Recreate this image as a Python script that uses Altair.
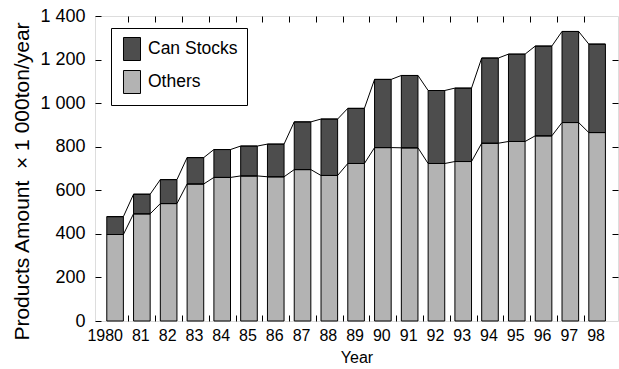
import altair as alt
import pandas as pd

YEARS = list(range(1980, 1999))
OTHERS = [397, 492, 539, 629, 659, 666, 662, 695, 668, 723, 796, 795, 723, 732, 816, 824, 850, 911, 865]
CAN_STOCKS = [82, 90, 110, 121, 128, 137, 150, 219, 259, 253, 313, 332, 335, 337, 391, 401, 412, 418, 406]
SERIES = ["Can Stocks", "Others"]
COLORS = ["#4d4d4d", "#b3b3b3"]
Y_TICKS = [0, 200, 400, 600, 800, 1000, 1200, 1400]
X_TICKS = [y + 0.5 for y in YEARS]

rows = []
for y, o, c in zip(YEARS, OTHERS, CAN_STOCKS):
    rows.append({"year": y, "series": "Others", "lo": 0, "hi": o})
    rows.append({"year": y, "series": "Can Stocks", "lo": o, "hi": o + c})
bars_df = pd.DataFrame(rows)

line_rows = []
for y, o, c in zip(YEARS, OTHERS, CAN_STOCKS):
    line_rows.append({"year": y, "series": "Others", "value": o})
    line_rows.append({"year": y, "series": "Total", "value": o + c})
lines_df = pd.DataFrame(line_rows)

HALF = 0.31
FONT = "Liberation Sans"

xscale = alt.Scale(domain=[1979.25, 1998.78], nice=False, zero=False)
yscale = alt.Scale(domain=[0, 1400], nice=False)

bottom_axis = alt.Axis(
    orient="bottom", values=X_TICKS, offset=-6, tickSize=6, domain=False, grid=False,
    ticks=True, zindex=2,
    labelExpr="floor(datum.value) == 1980 ? '1980' : slice(toString(floor(datum.value)), 2)",
    labelAlign="right", labelOffset=-6, labelPadding=6, labelFontSize=16, labelFont=FONT,
    labelColor="black", tickColor="black", tickWidth=1,
    tickOpacity={"condition": {"test": "datum.value > 1998", "value": 0}, "value": 1},
    title="Year", titleFont=FONT, titleFontSize=16, titleFontWeight="normal",
    titleColor="black", titlePadding=6,
)
left_axis = alt.Axis(
    orient="left", values=Y_TICKS, offset=-6, tickSize=6, domain=False, grid=False,
    ticks=True, zindex=2,
    labelExpr="replace(format(datum.value, ',d'), ',', ' ')",
    labelPadding=10, labelFontSize=18, labelFont=FONT, labelColor="black",
    tickColor="black", tickWidth=1,
    title="Products Amount\u00a0\u00a0\u00d7 1 000ton/year", titleFont=FONT, titleFontSize=21,
    titleFontWeight="normal", titleColor="black",
    titleAngle=270, titleAlign="center", titleBaseline="alphabetic",
    titleX=-73, titleY=165,
)
top_axis = alt.Axis(
    orient="top", values=X_TICKS[:-1], offset=-6, tickSize=6, domain=False, grid=False,
    ticks=True, zindex=2, labels=False, title=None, tickColor="black", tickWidth=1,
)
right_axis = alt.Axis(
    orient="right", values=Y_TICKS[1:-1], offset=-6, tickSize=6, domain=False, grid=False,
    ticks=True, zindex=2, labels=False, title=None, tickColor="black", tickWidth=1,
)

bars = alt.Chart(bars_df).transform_calculate(
    x0=f"datum.year - {HALF}", x1=f"datum.year + {HALF}"
).mark_bar(stroke="black", strokeWidth=1).encode(
    x=alt.X("x0:Q", scale=xscale, axis=bottom_axis),
    x2="x1:Q",
    y=alt.Y("lo:Q", scale=yscale, axis=left_axis),
    y2="hi:Q",
    color=alt.Color(
        "series:N",
        scale=alt.Scale(domain=SERIES, range=COLORS),
        legend=alt.Legend(
            orient="none", legendX=16, legendY=12, title=None,
            symbolType="M-0.74,-1H0.74V1H-0.74Z", symbolSize=529,
            symbolStrokeColor="black", symbolStrokeWidth=1, symbolOpacity=1,
            labelFont=FONT, labelFontSize=17.5, labelColor="black", labelOffset=4,
            rowPadding=5, padding=9, strokeColor="black", fillColor="white",
        ),
    ),
)

lines = alt.Chart(lines_df).transform_calculate(
    xa=f"datum.year - {HALF}", xb=f"datum.year + {HALF}"
).transform_fold(["xa", "xb"], as_=["side", "xpos"]).mark_line(
    color="black", strokeWidth=1
).encode(
    x=alt.X("xpos:Q", scale=xscale, axis=top_axis),
    y=alt.Y("value:Q", scale=yscale, axis=right_axis),
    detail="series:N",
    order="xpos:Q",
)

chart = alt.layer(bars, lines).properties(
    width=523, height=305,
    autosize=alt.AutoSizeParams(type="none"),
    padding={"left": 95, "top": 16, "right": 1, "bottom": 48},
).configure_view(stroke="black", strokeWidth=1).configure(background="white")

chart.save("out.html", embed_options={"renderer": "svg", "actions": False})
